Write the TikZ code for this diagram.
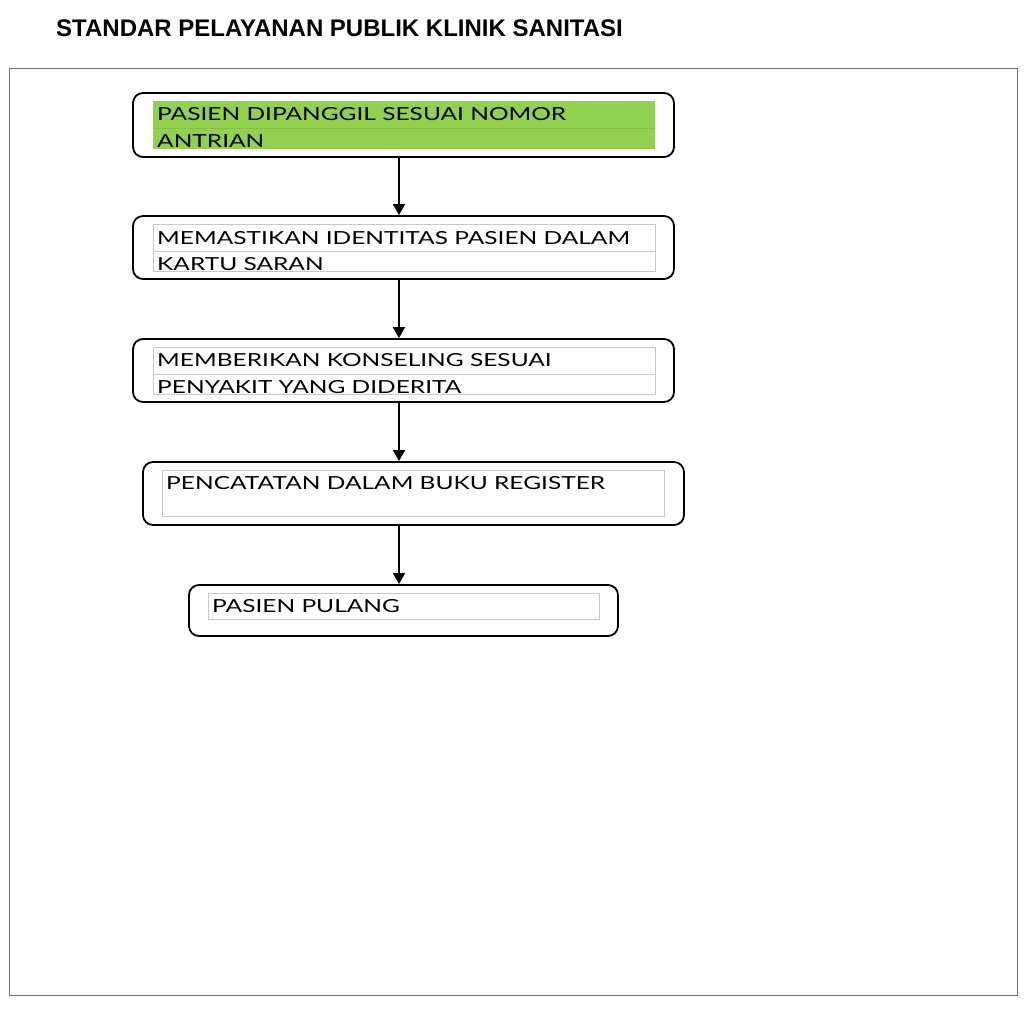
\documentclass[tikz,border=0pt]{standalone}
\usepackage{fontspec}
\setmainfont{Lato}
\newfontfamily\titlefont{Liberation Sans}
\usetikzlibrary{arrows.meta}
\definecolor{boxgreen}{HTML}{92D050}
\definecolor{cellgray}{HTML}{C8C8C8}
\definecolor{framegray}{HTML}{707070}
\newcommand{\widetxt}[1]{\scalebox{1.36}[1]{#1}}
\tikzset{
  stepbox/.style={draw=black, line width=1.8pt, rounded corners=10pt, inner sep=0pt},
  celltxt/.style={anchor=west, inner sep=0pt, font=\fontsize{18}{20}\selectfont},
  cell/.style={draw=cellgray, line width=0.8pt},
  arr/.style={line width=1.8pt, -{Triangle[length=11pt,width=12pt]}},
}
\begin{document}
\begin{tikzpicture}[x=1pt,y=-1pt]
\useasboundingbox (0,0) rectangle (1024,1019);
% title
\node[anchor=west, inner sep=0pt, font=\titlefont\bfseries\fontsize{24}{26}\selectfont] (title) at (56,28) {STANDAR PELAYANAN PUBLIK KLINIK SANITASI};
% frame
\draw[framegray, line width=1pt] (9,69) rectangle (1017,995);
% boxes
\node[stepbox, minimum width=541pt, minimum height=64pt] (b1) at (403.5,125) {};
\node[stepbox, minimum width=541pt, minimum height=63pt] (b2) at (403.5,247.5) {};
\node[stepbox, minimum width=541pt, minimum height=63pt] (b3) at (403.5,370.5) {};
\node[stepbox, minimum width=541pt, minimum height=63pt] (b4) at (413.5,493.5) {};
\node[stepbox, minimum width=429pt, minimum height=51pt] (b5) at (403.5,610.5) {};
% inner cells
\fill[boxgreen] (153,101) rectangle (655,149);
\draw[black, line width=0.4pt, opacity=0.08] (153,128) -- (655,128);
\draw[cell] (153,224) rectangle (655,271);
\draw[cell] (153,251) -- (655,251);
\draw[cell] (153,347) rectangle (655,394);
\draw[cell] (153,374) -- (655,374);
\draw[cell] (162,470) rectangle (664,516);
\draw[cell] (208,593) rectangle (599,619);
% texts
\node[celltxt] (t1a) at (157,114.5) {\widetxt{PASIEN DIPANGGIL SESUAI NOMOR}};
\node[celltxt] (t1b) at (157,141) {\widetxt{ANTRIAN}};
\node[celltxt] (t2a) at (157,238) {\widetxt{MEMASTIKAN IDENTITAS PASIEN DALAM}};
\node[celltxt] (t2b) at (157,264) {\widetxt{KARTU SARAN}};
\node[celltxt] (t3a) at (157,360) {\widetxt{MEMBERIKAN KONSELING SESUAI}};
\node[celltxt] (t3b) at (157,387) {\widetxt{PENYAKIT YANG DIDERITA}};
\node[celltxt] (t4) at (166,483) {\widetxt{PENCATATAN DALAM BUKU REGISTER}};
\node[celltxt] (t5) at (212,606) {\widetxt{PASIEN PULANG}};
% arrows
\coordinate (ax) at (399,0);
\draw[arr] (b1.south -| ax) -- (b2.north -| ax);
\draw[arr] (b2.south -| ax) -- (b3.north -| ax);
\draw[arr] (b3.south -| ax) -- (b4.north -| ax);
\draw[arr] (b4.south -| ax) -- (b5.north -| ax);
\end{tikzpicture}
\end{document}
